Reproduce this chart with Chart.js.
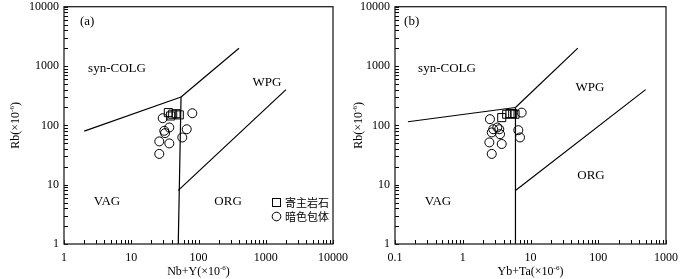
<!DOCTYPE html>
<html><head><meta charset="utf-8">
<script src="https://cdn.jsdelivr.net/npm/chart.js@4.4.1/dist/chart.umd.min.js"></script>
<style>
html,body{margin:0;padding:0;background:#fff;}
#wrap{position:relative;width:700px;height:279px;overflow:hidden;background:#fff;}
canvas{position:absolute;top:0;}
</style></head><body>
<div id="wrap">
<canvas id="ca" width="350" height="279" style="left:0"></canvas>
<canvas id="cb" width="350" height="279" style="left:350px"></canvas>
</div>
<script>
// ---------- DATA ----------
const seriesNames = ['寄主岩石', '暗色包体'];
// Panel (a): Nb+Y vs Rb
const hostNbY    = [35.6, 41.3, 46.3, 51.8, 38.6];
const hostRbA    = [164, 154, 157, 150, 144];
const enclaveNbY = [80.9, 29.4, 66.8, 31, 36.8, 31.8, 57.4, 26.1, 36.8, 26.1];
const enclaveRbA = [160, 132, 86, 81, 92, 74, 62.5, 53.6, 49.6, 33];
// Panel (b): Yb+Ta vs Rb
const hostYbTa    = [3.76, 4.45, 4.98, 5.46, 5.91];
const hostRbB     = [135, 154, 158, 158, 154];
const enclaveYbTa = [2.52, 2.82, 3.24, 3.46, 2.68, 3.55, 2.47, 3.76, 2.68, 7.41, 6.61, 7.0];
const enclaveRbB  = [127, 86, 92, 86, 76, 71, 51.6, 48.5, 33, 164, 83, 62.5];
// Discrimination boundaries (Pearce et al., 1984)
const boundA = [
  {x:[2, 55], y:[80, 300]},
  {x:[55, 400], y:[300, 2000]},
  {x:[50, 55], y:[1, 300]},
  {x:[50, 2000], y:[8, 400]}
];
const boundB = [
  {x:[0.155, 6], y:[115, 200]},
  {x:[6, 50], y:[200, 2000]},
  {x:[6, 6], y:[1, 200]},
  {x:[6, 500], y:[8, 400]}
];
const fieldLabelsA = [
  {t:'(a)', x:1.73, y:5600, align:'left'},
  {t:'syn-COLG', x:6.14, y:917},
  {t:'WPG', x:1044, y:535},
  {t:'VAG', x:4.36, y:5.25},
  {t:'ORG', x:275, y:5.25}
];
const fieldLabelsB = [
  {t:'(b)', x:0.136, y:5600, align:'left'},
  {t:'syn-COLG', x:0.585, y:917},
  {t:'WPG', x:75.5, y:441},
  {t:'VAG', x:0.431, y:5.25},
  {t:'ORG', x:78.2, y:14.3}
];
const xTitleA = 'Nb+Y', xTitleB = 'Yb+Ta', yTitle = 'Rb';
const xRangeA = [1, 10000], xRangeB = [0.1, 1000], yRange = [1, 10000];

// ---------- HELPERS ----------
const SERIF = '"Liberation Serif","Times New Roman",serif';
function logTicks(min, max){
  const out=[];
  for(let e=Math.round(Math.log10(min)); e<=Math.round(Math.log10(max)); e++){
    for(let k=1;k<=9;k++){
      const v = +(k*Math.pow(10,e)).toPrecision(6);
      if(v>=min*0.999 && v<=max*1.001) out.push(v);
      if(k===1 && e===Math.round(Math.log10(max))) break;
    }
  }
  return out;
}
function isDecade(v){ const l=Math.log10(v); return Math.abs(l-Math.round(l))<1e-6; }
function pts(xs, ys){ return xs.map((x,i)=>({x:x, y:ys[i]})); }

function drawUnitTitle(ctx, base, x, y, rotate){
  ctx.save();
  ctx.translate(x, y);
  if(rotate) ctx.rotate(-Math.PI/2);
  ctx.fillStyle='#000';
  ctx.textBaseline='alphabetic';
  const f1='12px '+SERIF, f2='7px '+SERIF;
  const p1 = base+'(×10', p2='-6', p3=')';
  ctx.font=f1; const w1=ctx.measureText(p1).width, w3=ctx.measureText(p3).width;
  ctx.font=f2; const w2=ctx.measureText(p2).width;
  let sx = -(w1+w2+w3)/2;
  ctx.font=f1; ctx.textAlign='left'; ctx.fillText(p1, sx, 4);
  ctx.font=f2; ctx.fillText(p2, sx+w1, -1);
  ctx.font=f1; ctx.fillText(p3, sx+w1+w2, 4);
  ctx.restore();
}

const framePlugin = {
  id:'frameTicks',
  afterDatasetsDraw(chart){
    const o = chart.options.plugins.frameTicks;
    const {ctx, chartArea:a, scales:{x, y}} = chart;
    ctx.save();
    ctx.strokeStyle='#000'; ctx.lineWidth=1;
    ctx.beginPath();
    x.ticks.forEach(t=>{ const px=Math.round(x.getPixelForValue(t.value))+0.5; ctx.moveTo(px,a.bottom); ctx.lineTo(px,a.bottom-4); });
    y.ticks.forEach(t=>{ const py=Math.round(y.getPixelForValue(t.value))+0.5; ctx.moveTo(a.left,py); ctx.lineTo(a.left+4,py); });
    ctx.stroke();
    ctx.strokeStyle='#222'; ctx.lineWidth=1.3;
    ctx.strokeRect(a.left, a.top, a.right-a.left, a.bottom-a.top);
    // field labels
    ctx.fillStyle='#000'; ctx.font='13px '+SERIF; ctx.textBaseline='middle';
    o.labels.forEach(l=>{
      ctx.textAlign = l.align || 'center';
      ctx.fillText(l.t, x.getPixelForValue(l.x), y.getPixelForValue(l.y));
    });
    // axis titles
    drawUnitTitle(ctx, o.xTitle, (a.left+a.right)/2, chart.height-8, false);
    drawUnitTitle(ctx, o.yTitle, o.yTitleX, (a.top+a.bottom)/2, true);
    // legend
    if(o.legend){
      const lx=a.right-57, ly=a.bottom-42;
      ctx.lineWidth=1; ctx.strokeStyle='#000';
      ctx.strokeRect(lx-3.5, ly-3.5, 8, 8);
      ctx.beginPath(); ctx.arc(lx+0.5, ly+14.5, 4.3, 0, Math.PI*2); ctx.stroke();
      ctx.font='11px "Noto Sans CJK SC",sans-serif'; ctx.textAlign='left'; ctx.textBaseline='middle';
      ctx.fillText(seriesNames[0], lx+9, ly+0.5);
      ctx.fillText(seriesNames[1], lx+9, ly+14.5);
    }
    ctx.restore();
  }
};

function makeChart(id, cfg){
  const datasets = [];
  cfg.bounds.forEach(b=>datasets.push({type:'line', data:pts(b.x,b.y), borderColor:'#000', borderWidth:1.2, pointRadius:0, fill:false, tension:0}));
  datasets.push({type:'scatter', label:seriesNames[1], data:pts(cfg.ex, cfg.ey), pointStyle:'circle', pointRadius:4.5, borderColor:'#000', borderWidth:1, backgroundColor:'rgba(0,0,0,0)'});
  datasets.push({type:'scatter', label:seriesNames[0], data:pts(cfg.hx, cfg.hy), pointStyle:'rect', pointRadius:5.7, borderColor:'#000', borderWidth:1, backgroundColor:'rgba(0,0,0,0)'});
  const tickFont = {family:SERIF, size:12};
  return new Chart(document.getElementById(id), {
    data:{datasets},
    options:{
      responsive:false, animation:false, devicePixelRatio:1,
      layout:{padding:{top:5, right:cfg.padRight, left:0, bottom:0}},
      plugins:{legend:{display:false}, tooltip:{enabled:false},
        frameTicks:{labels:cfg.labels, xTitle:cfg.xTitle, yTitle:yTitle, yTitleX:cfg.yTitleX, legend:cfg.legend}},
      scales:{
        x:{type:'logarithmic', min:cfg.xRange[0], max:cfg.xRange[1], position:'bottom',
          afterBuildTicks:s=>{ s.ticks = logTicks(cfg.xRange[0], cfg.xRange[1]).map(v=>({value:v})); },
          afterFit:s=>{ s.height = 279-244; s.paddingLeft=0; s.paddingRight=0; },
          grid:{display:false, drawTicks:false}, border:{display:false},
          ticks:{autoSkip:false, maxRotation:0, minRotation:0, padding:7, color:'#000', font:tickFont,
            callback:v=>isDecade(v)?String(+v.toPrecision(6)):''}},
        y:{type:'logarithmic', min:yRange[0], max:yRange[1], position:'left',
          afterBuildTicks:s=>{ s.ticks = logTicks(yRange[0], yRange[1]).map(v=>({value:v})); },
          afterFit:s=>{ s.width = cfg.plotLeft; s.paddingTop=0; s.paddingBottom=0; },
          grid:{display:false, drawTicks:false}, border:{display:false},
          ticks:{autoSkip:false, padding:5, color:'#000', font:tickFont,
            callback:v=>isDecade(v)?String(+v.toPrecision(6)):''}}
      }
    },
    plugins:[framePlugin]
  });
}

makeChart('ca', {bounds:boundA, hx:hostNbY, hy:hostRbA, ex:enclaveNbY, ey:enclaveRbA,
  labels:fieldLabelsA, xTitle:xTitleA, xRange:xRangeA, plotLeft:64, padRight:17, yTitleX:15, legend:true});
makeChart('cb', {bounds:boundB, hx:hostYbTa, hy:hostRbB, ex:enclaveYbTa, ey:enclaveRbB,
  labels:fieldLabelsB, xTitle:xTitleB, xRange:xRangeB, plotLeft:45, padRight:34, yTitleX:8, legend:false});
</script>
</body></html>
